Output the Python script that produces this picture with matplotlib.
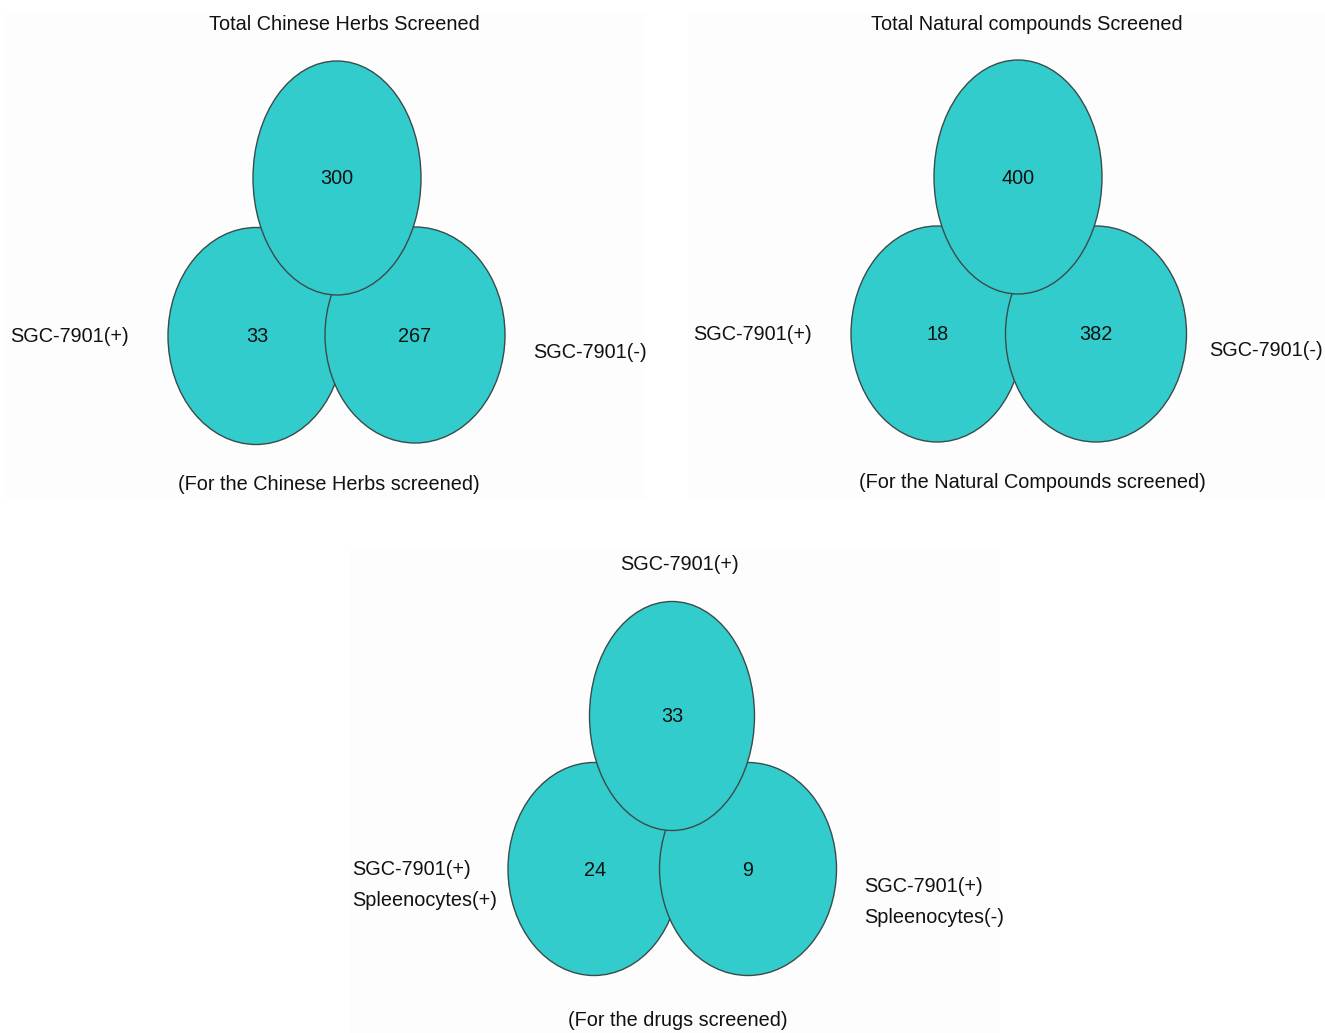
import matplotlib.pyplot as plt
from matplotlib.patches import Ellipse, Rectangle

# Data for the three panels
panel_titles = ['Total Chinese Herbs Screened', 'Total Natural compounds Screened', 'SGC-7901(+)']
panel_captions = ['(For the Chinese Herbs screened)', '(For the Natural Compounds screened)',
                  '(For the drugs screened)']
left_labels = ['SGC-7901(+)', 'SGC-7901(+)', 'SGC-7901(+)\nSpleenocytes(+)']
right_labels = ['SGC-7901(-)', 'SGC-7901(-)', 'SGC-7901(+)\nSpleenocytes(-)']
top_counts = [300, 400, 33]
left_counts = [33, 18, 24]
right_counts = [267, 382, 9]

fill = '#33cccc'
edge = '#3b4b4b'
fam = ['Liberation Sans', 'DejaVu Sans']
fs = 14.3

fig = plt.figure(figsize=(13.25, 10.33), dpi=100)
ax = fig.add_axes([0, 0, 1, 1])
ax.set_xlim(0, 1325)
ax.set_ylim(1033, 0)
ax.axis('off')

# layout per panel (pixel coords): background box, ellipses, text anchors
layout = [
    dict(bg=(5, 12, 640, 488), top=(337, 178, 168, 234), left=(256, 336, 176, 217),
         right=(415, 335, 180, 216), title=(344, 24), cap=(329, 484),
         ll=(10, 336), rl=(533, 353)),
    dict(bg=(688, 12, 637, 488), top=(1018, 177, 168, 234), left=(937, 334, 172, 216),
         right=(1096, 334, 181, 216), title=(1027, 24), cap=(1032, 482),
         ll=(693, 334), rl=(1209, 351)),
    dict(bg=(350, 548, 650, 485), top=(672, 716, 165, 229), left=(594, 869, 172, 213),
         right=(748, 869, 177, 213), title=(680, 564), cap=(678, 1021),
         ll=(352, 885), rl=(864, 902)),
]

for i, L in enumerate(layout):
    x0, y0, w, h = L['bg']
    ax.add_patch(Rectangle((x0, y0), w, h, facecolor='#fdfdfd', edgecolor='none', zorder=0))
    # draw order: left, right, top
    for key, z in (('left', 1), ('right', 2), ('top', 3)):
        cx, cy, ew, eh = L[key]
        ax.add_patch(Ellipse((cx, cy), ew, eh, facecolor=fill, edgecolor=edge, linewidth=1.0, zorder=z))
    ax.text(L['top'][0], L['top'][1] + 1, str(top_counts[i]), ha='center', va='center',
            fontsize=fs, family=fam, zorder=5, color='#111111')
    ax.text(L['left'][0] + 1, L['left'][1] + 1, str(left_counts[i]), ha='center', va='center',
            fontsize=fs, family=fam, zorder=5, color='#111111')
    ax.text(L['right'][0], L['right'][1] + 1, str(right_counts[i]), ha='center', va='center',
            fontsize=fs, family=fam, zorder=5, color='#111111')
    ax.text(L['title'][0], L['title'][1], panel_titles[i], ha='center', va='center',
            fontsize=fs, family=fam, color='#111111')
    ax.text(L['cap'][0], L['cap'][1], panel_captions[i], ha='center', va='center',
            fontsize=fs, family=fam, color='#111111')
    ax.text(L['ll'][0], L['ll'][1], left_labels[i], ha='left', va='center',
            fontsize=fs, family=fam, color='#111111', linespacing=1.75)
    ax.text(L['rl'][0], L['rl'][1], right_labels[i], ha='left', va='center',
            fontsize=fs, family=fam, color='#111111', linespacing=1.75)

fig.savefig('out.png', dpi=100)
